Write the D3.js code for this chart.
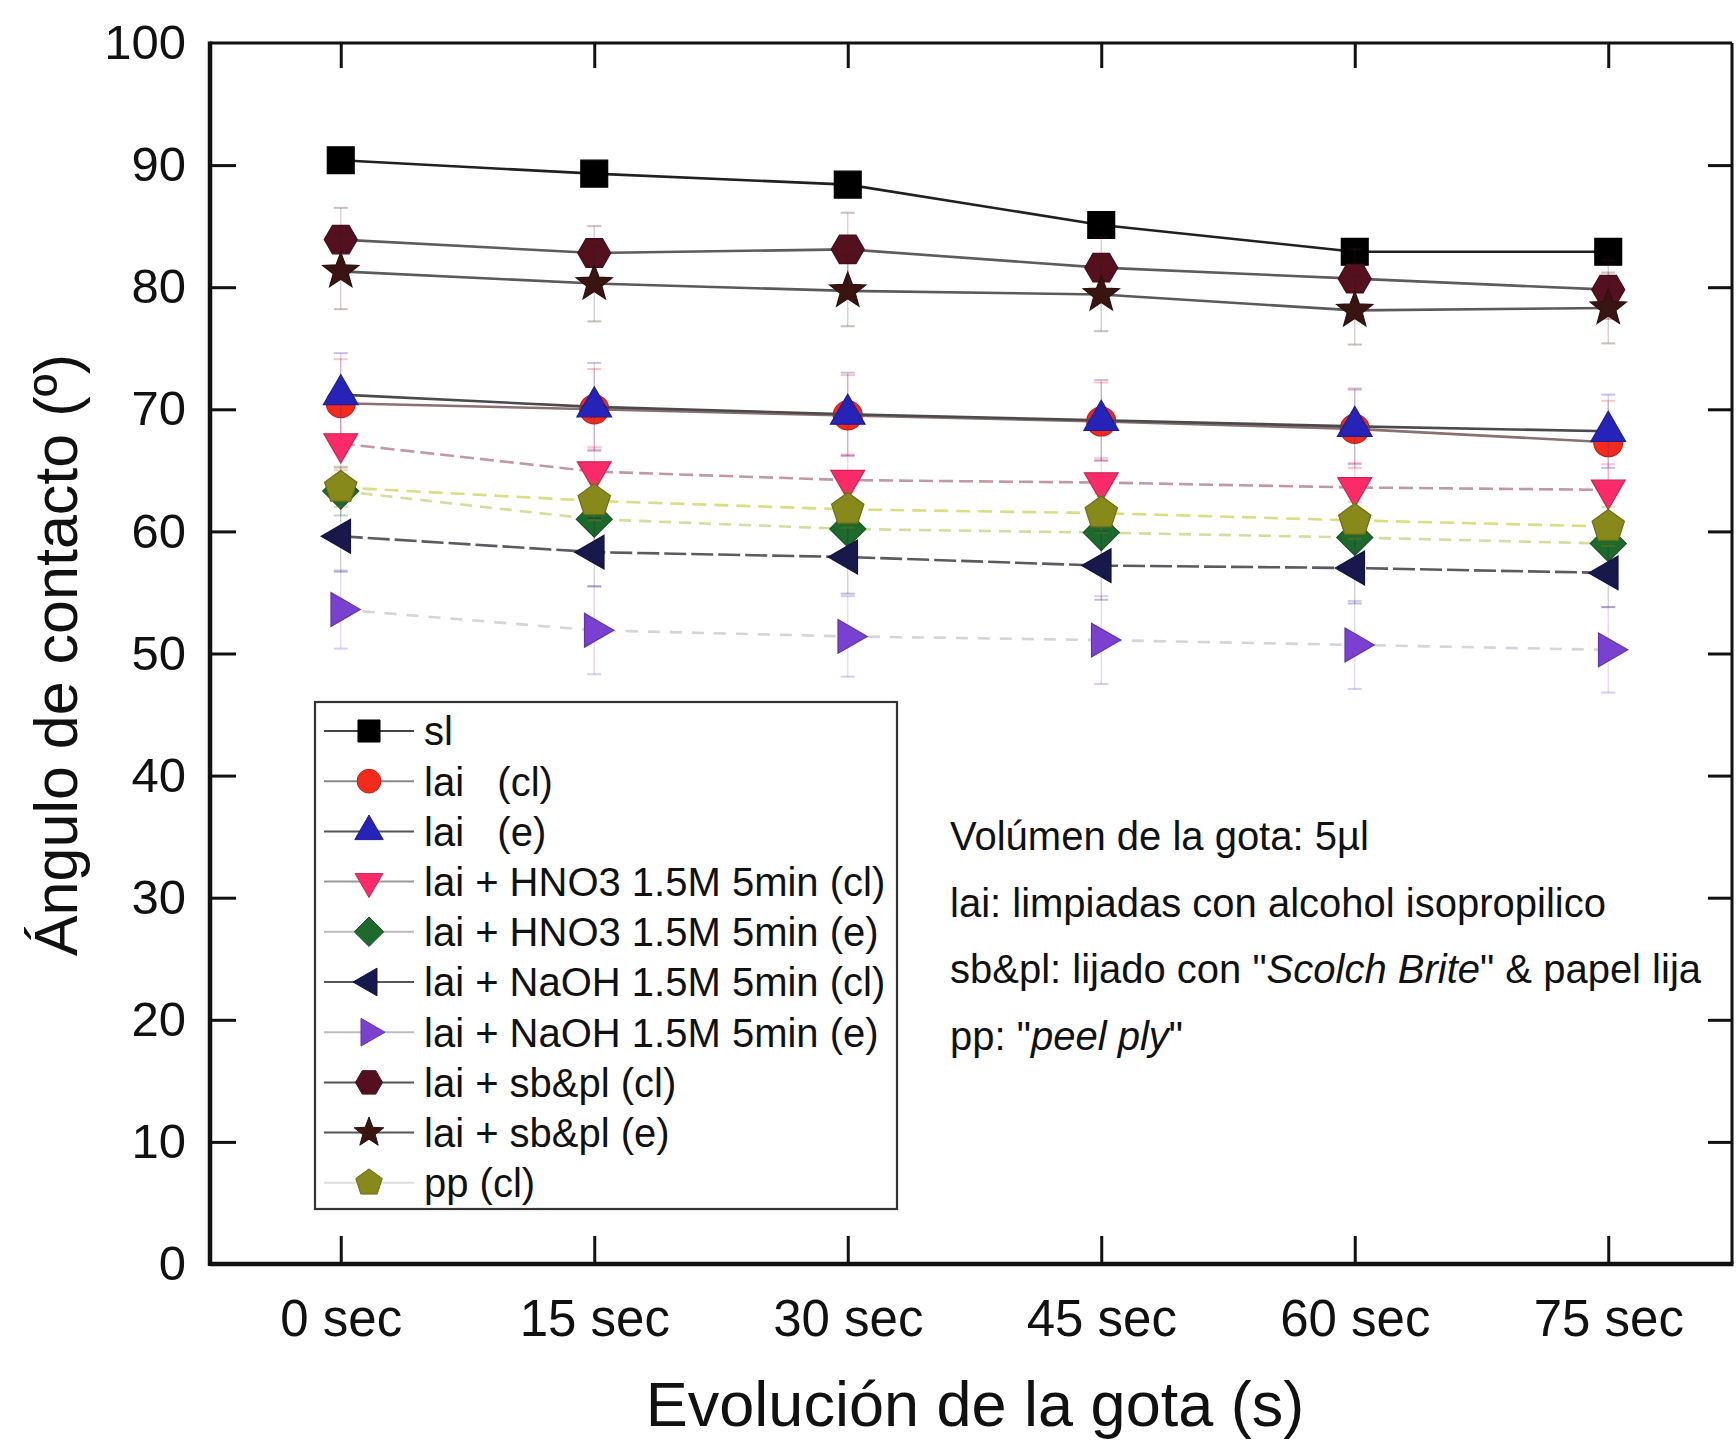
<!DOCTYPE html>
<html>
<head>
<meta charset="utf-8">
<script src="https://cdn.jsdelivr.net/npm/d3@7/dist/d3.min.js"></script>
<style>
  html, body { margin: 0; padding: 0; background: #ffffff; }
  svg { display: block; font-family: "Liberation Sans", Arial, Helvetica, sans-serif; }
  text { white-space: pre; }
</style>
</head>
<body>
<svg id="chart" width="1736" height="1443"></svg>
<script>
// Contact angle of a 5 µl drop over time for each surface treatment
const categories = ["0 sec", "15 sec", "30 sec", "45 sec", "60 sec", "75 sec"];
const yTicks = [0, 10, 20, 30, 40, 50, 60, 70, 80, 90, 100];

const seriesNames = [
  "sl",
  "lai   (cl)",
  "lai   (e)",
  "lai + HNO3 1.5M 5min (cl)",
  "lai + HNO3 1.5M 5min (e)",
  "lai + NaOH 1.5M 5min (cl)",
  "lai + NaOH 1.5M 5min (e)",
  "lai + sb&pl (cl)",
  "lai + sb&pl (e)",
  "pp (cl)"
];

const sl        = [90.4, 89.3, 88.4, 85.1, 82.9, 82.9];
const laiCl     = [70.5, 70.0, 69.5, 69.0, 68.4, 67.3];
const laiE      = [71.2, 70.2, 69.6, 69.1, 68.6, 68.2];
const hno3Cl    = [67.2, 64.9, 64.2, 64.0, 63.6, 63.4];
const hno3E     = [63.3, 61.0, 60.2, 59.9, 59.5, 59.0];
const naohCl    = [59.6, 58.3, 57.9, 57.2, 57.0, 56.6];
const naohE     = [53.6, 51.9, 51.4, 51.1, 50.7, 50.3];
const sbplCl    = [83.9, 82.8, 83.1, 81.6, 80.7, 79.8];
const sbplE     = [81.3, 80.3, 79.7, 79.4, 78.1, 78.3];
const ppCl      = [63.6, 62.5, 61.8, 61.5, 60.9, 60.4];

// standard deviations
const slErr     = [0.4, 0.4, 0.4, 0.4, 0.4, 0.4];
const laiClErr  = [3.6, 3.3, 3.3, 3.2, 3.2, 3.4];
const laiEErr   = [3.4, 3.6, 3.4, 3.3, 3.1, 3.0];
const hno3ClErr = [2.2, 2.0, 2.1, 2.0, 2.0, 2.1];
const hno3EErr  = [2.0, 2.2, 2.0, 2.1, 2.0, 2.1];
const naohClErr = [2.9, 2.8, 3.0, 2.8, 2.9, 2.8];
const naohEErr  = [3.2, 3.6, 3.3, 3.6, 3.6, 3.5];
const sbplClErr = [2.6, 2.2, 3.0, 2.5, 2.4, 2.4];
const sbplEErr  = [3.1, 3.1, 2.9, 3.0, 2.8, 2.9];
const ppClErr   = [1.6, 1.6, 1.5, 1.6, 1.5, 1.6];

const seriesValues = [sl, laiCl, laiE, hno3Cl, hno3E, naohCl, naohE, sbplCl, sbplE, ppCl];
const seriesErrors = [slErr, laiClErr, laiEErr, hno3ClErr, hno3EErr, naohClErr, naohEErr, sbplClErr, sbplEErr, ppClErr];

const annotationLines = [
  [{ t: "Volúmen de la gota: 5µl" }],
  [{ t: "lai: limpiadas con alcohol isopropilico" }],
  [{ t: "sb&pl: lijado con \"" }, { t: "Scolch Brite", i: true }, { t: "\" & papel lija" }],
  [{ t: "pp: \"" }, { t: "peel ply", i: true }, { t: "\"" }]
];

// ---- styling ----
const markerFill = ["#000000", "#f42a1c", "#2623b8", "#fb2a68", "#1d6a2c", "#17184c", "#7a40cf", "#55101f", "#3a1410", "#87891a"];
const lineColor  = ["#202020", "#8a7070", "#4a4a4a", "#c09aa2", "#d6dc9a", "#5a5a62", "#d4d4da", "#5c5c5c", "#5a5a5a", "#dcdc80"];
const lineDash   = [null, null, null, "14,6", "12,8", "22,5", "12,10", null, null, "14,8"];
const legendLine = ["#444", "#888", "#555", "#999", "#bbb", "#555", "#bbb", "#555", "#555", "#ddd"];

// regular-polygon / star symbol types for d3.symbol (size = circumradius)
function polygonType(n, rot) {
  return { draw(ctx, r) {
    for (let k = 0; k < n; k++) {
      const a = rot + k * 2 * Math.PI / n;
      const px = r * Math.cos(a), py = r * Math.sin(a);
      k ? ctx.lineTo(px, py) : ctx.moveTo(px, py);
    }
    ctx.closePath();
  }};
}
const circleType = { draw(ctx, r) { ctx.moveTo(r, 0); ctx.arc(0, 0, r, 0, 2 * Math.PI); } };
const squareType = { draw(ctx, r) { const h = r / Math.SQRT2; ctx.rect(-h, -h, 2 * h, 2 * h); } };
const starType = { draw(ctx, r) {
  const ri = r * 0.42;
  for (let k = 0; k < 10; k++) {
    const a = -Math.PI / 2 + k * Math.PI / 5;
    const rr = k % 2 ? ri : r;
    k ? ctx.lineTo(rr * Math.cos(a), rr * Math.sin(a)) : ctx.moveTo(rr * Math.cos(a), rr * Math.sin(a));
  }
  ctx.closePath();
}};
const D = Math.PI / 180;
const markerType = [
  squareType,
  circleType,
  polygonType(3, -90 * D),
  polygonType(3, 90 * D),
  polygonType(4, -90 * D),
  polygonType(3, 180 * D),
  polygonType(3, 0),
  polygonType(6, 0),
  starType,
  polygonType(5, -90 * D)
];
const markerR = [19, 14.5, 20, 19.5, 18, 19.5, 19.5, 16.5, 19, 17];

// ---- layout ----
const svg = d3.select("#chart");
const L = 210, R = 1732, T = 43, B = 1264;

const x = d3.scalePoint().domain(categories).range([214, 1735]).padding(0.5);
const y = d3.scaleLinear().domain([0, 100]).range([B, T]);

const g = svg.append("g");

// axes with inward ticks
const axL = g.append("g").attr("transform", `translate(${L},0)`)
  .call(d3.axisLeft(y).tickValues(yTicks).tickSize(-26).tickSizeOuter(0).tickPadding(24));
const axR = g.append("g").attr("transform", `translate(${R},0)`)
  .call(d3.axisRight(y).tickValues(yTicks).tickSize(-24).tickSizeOuter(0).tickFormat(""));
const axB = g.append("g").attr("transform", `translate(0,${B})`)
  .call(d3.axisBottom(x).tickSize(-28).tickSizeOuter(0).tickPadding(36));
const axT = g.append("g").attr("transform", `translate(0,${T})`)
  .call(d3.axisTop(x).tickSize(-25).tickSizeOuter(0).tickFormat(""));

[axL, axR, axB, axT].forEach(a => {
  a.select(".domain").remove();
  a.selectAll(".tick line").attr("stroke", "#111").attr("stroke-width", 3);
});
axL.selectAll(".tick text").attr("font-size", 49).attr("fill", "#111")
  .attr("font-family", "Liberation Sans, Arial, sans-serif");
axB.selectAll(".tick text").attr("font-size", 51).attr("fill", "#111")
  .attr("font-family", "Liberation Sans, Arial, sans-serif");
axL.selectAll(".tick line").filter(d => d === 0 || d === 100).remove();
axR.selectAll(".tick line").filter(d => d === 0 || d === 100).remove();

// frame
g.append("line").attr("x1", L).attr("x2", R).attr("y1", T).attr("y2", T).attr("stroke", "#111").attr("stroke-width", 3);
g.append("line").attr("x1", R).attr("x2", R).attr("y1", T).attr("y2", B).attr("stroke", "#111").attr("stroke-width", 3);
g.append("line").attr("x1", L).attr("x2", R + 1.5).attr("y1", B).attr("y2", B).attr("stroke", "#111").attr("stroke-width", 4.5);
g.append("line").attr("x1", L).attr("x2", L).attr("y1", T - 1.5).attr("y2", B + 2).attr("stroke", "#111").attr("stroke-width", 4.5);

// axis titles
svg.append("text").attr("x", 975).attr("y", 1426).attr("text-anchor", "middle")
  .attr("font-size", 63).attr("fill", "#111").text("Evolución de la gota (s)");
svg.append("text").attr("transform", "translate(77,655) rotate(-90)").attr("text-anchor", "middle")
  .attr("font-size", 61).attr("fill", "#111").text("Ángulo de contacto (º)");

// ---- series ----
const lineGen = d3.line().x((d, i) => x(categories[i])).y(d => y(d));
const plot = g.append("g");

seriesValues.forEach((vals, s) => {
  const errs = seriesErrors[s];
  const grp = plot.append("g");
  // error bars (faint)
  vals.forEach((v, i) => {
    const cx = x(categories[i]);
    const e = errs[i];
    grp.append("line").attr("x1", cx).attr("x2", cx).attr("y1", y(v - e)).attr("y2", y(v + e))
      .attr("stroke", markerFill[s]).attr("stroke-opacity", 0.22).attr("stroke-width", 1.3);
    [v - e, v + e].forEach(ev => {
      grp.append("line").attr("x1", cx - 7).attr("x2", cx + 7).attr("y1", y(ev)).attr("y2", y(ev))
        .attr("stroke", markerFill[s]).attr("stroke-opacity", 0.28).attr("stroke-width", 2);
    });
  });
  // connecting line
  grp.append("path").datum(vals).attr("d", lineGen).attr("fill", "none")
    .attr("stroke", lineColor[s]).attr("stroke-width", 2.6)
    .attr("stroke-dasharray", lineDash[s]);
  // markers
  const sym = d3.symbol().type(markerType[s]).size(markerR[s]);
  grp.selectAll("path.mk").data(vals).join("path").attr("class", "mk")
    .attr("transform", (d, i) => `translate(${x(categories[i])},${y(d)})`)
    .attr("d", sym).attr("fill", markerFill[s])
    .attr("stroke", d3.color(markerFill[s]).darker(0.6)).attr("stroke-width", 1.2);
});

// ---- legend ----
const lg = svg.append("g");
lg.append("rect").attr("x", 315).attr("y", 702).attr("width", 582).attr("height", 507)
  .attr("fill", "#ffffff").attr("stroke", "#333").attr("stroke-width", 2.2);
seriesNames.forEach((name, s) => {
  const cy = 731 + s * 50.2;
  lg.append("line").attr("x1", 324).attr("x2", 414).attr("y1", cy).attr("y2", cy)
    .attr("stroke", legendLine[s]).attr("stroke-width", 2);
  lg.append("path").attr("transform", `translate(369,${cy})`)
    .attr("d", d3.symbol().type(markerType[s]).size(markerR[s] * 0.82)())
    .attr("fill", markerFill[s]).attr("stroke", d3.color(markerFill[s]).darker(0.6)).attr("stroke-width", 1);
  lg.append("text").attr("x", 424).attr("y", cy).attr("dy", "0.36em")
    .attr("font-size", 40).attr("fill", "#111").text(name);
});

// ---- notes ----
const notes = svg.append("g");
annotationLines.forEach((parts, k) => {
  const t = notes.append("text").attr("x", 950).attr("y", 850 + k * 66.5)
    .attr("font-size", 40).attr("fill", "#111");
  parts.forEach(p => {
    t.append("tspan").attr("font-style", p.i ? "italic" : "normal").text(p.t);
  });
});
</script>
</body>
</html>
